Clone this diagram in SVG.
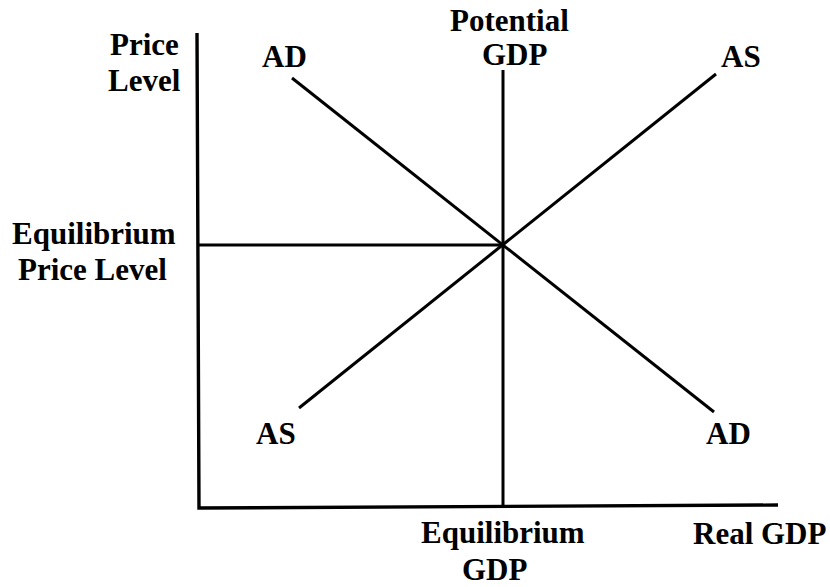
<svg xmlns="http://www.w3.org/2000/svg" width="830" height="587" viewBox="0 0 830 587">
<style>
text{font-family:"Liberation Serif","Times New Roman",serif;font-weight:bold;font-size:31px;fill:#000}
.ln{stroke:#000;stroke-width:3;fill:none;stroke-linecap:butt}
.ax{stroke:#000;stroke-width:3.4;fill:none}
</style>
<rect width="830" height="587" fill="#fff"/>
<g id="connectors">
<polyline class="ax" points="197,33 199,508 778,505"/>
<line class="ln" x1="503" y1="70" x2="503" y2="507"/>
<line class="ln" x1="199" y1="245" x2="503" y2="245"/>
<line class="ln" x1="292" y1="78" x2="714" y2="412"/>
<line class="ln" x1="299" y1="408" x2="716" y2="74"/>
</g>
<g id="price-level"><text x="110" y="55">Price</text><text x="108" y="91">Level</text></g>
<g id="potential-gdp"><text x="450" y="31">Potential</text><text x="482" y="65">GDP</text></g>
<g id="ad-top"><text x="262" y="67">AD</text></g>
<g id="as-top"><text x="721" y="67">AS</text></g>
<g id="eq-price"><text x="12" y="244">Equilibrium</text><text x="18" y="280">Price Level</text></g>
<g id="as-bottom"><text x="256" y="444">AS</text></g>
<g id="ad-bottom"><text x="706" y="444">AD</text></g>
<g id="eq-gdp"><text x="421" y="543">Equilibrium</text><text x="462" y="580">GDP</text></g>
<g id="real-gdp"><text x="693" y="544">Real GDP</text></g>
</svg>
